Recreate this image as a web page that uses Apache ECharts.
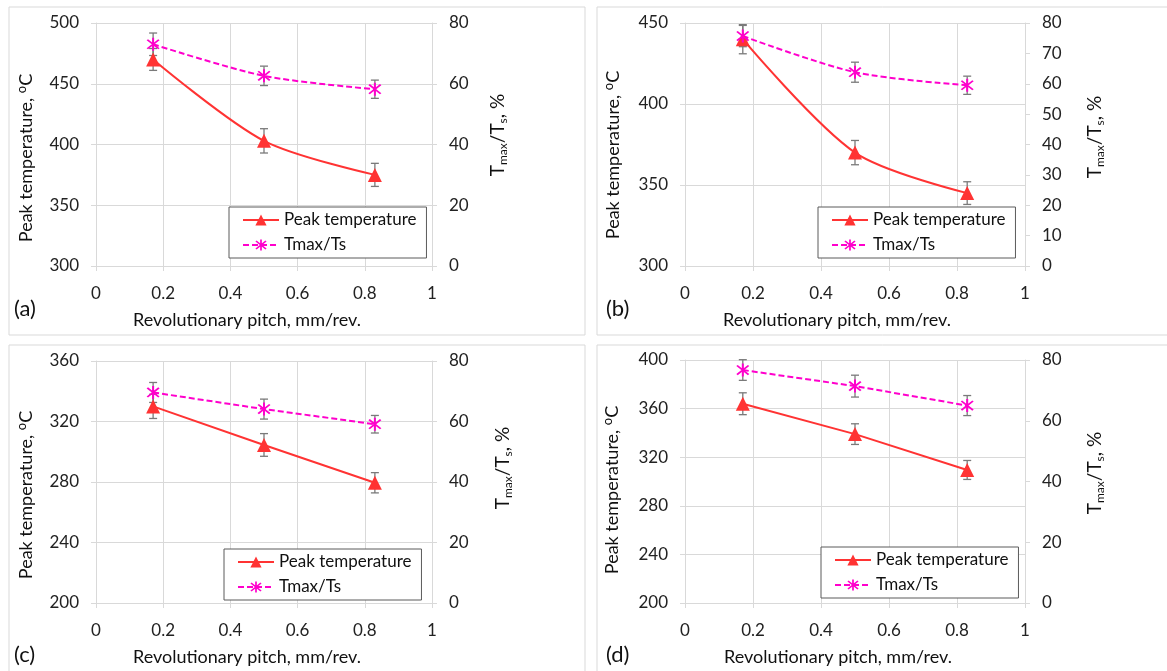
<!DOCTYPE html>
<html>
<head>
<meta charset="utf-8">
<script src="https://cdn.jsdelivr.net/npm/echarts@6/dist/echarts.min.js"></script>
<style>html,body{margin:0;padding:0;background:#fff;}#c{width:1167px;height:671px;}</style>
</head>
<body>
<div id="c"></div>
<script>
// ---- data ----
const pitch = [0.17, 0.5, 0.83];
const xTicks = [0, 0.2, 0.4, 0.6, 0.8, 1];
const panelLabels = ['(a)', '(b)', '(c)', '(d)'];
const seriesNames = ['Peak temperature', 'Tmax/Ts'];

const peakA = [470, 403, 375];
const peakErrA = [9, 10, 9.5];
const ratioA = [73, 62.6, 58.2];
const ratioErrA = [3.7, 3.2, 3.0];

const peakB = [440, 370, 345];
const peakErrB = [9, 7.5, 7];
const ratioB = [75.7, 63.8, 59.5];
const ratioErrB = [3.5, 3.3, 3.0];

const peakC = [330, 304.5, 279.5];
const peakErrC = [8, 7.5, 6.7];
const ratioC = [69.6, 64.1, 59.1];
const ratioErrC = [3.3, 3.3, 2.9];

const peakD = [364, 339, 309.5];
const peakErrD = [9, 8.5, 7.8];
const ratioD = [76.7, 71.4, 65.0];
const ratioErrD = [3.4, 3.6, 3.3];

// left axis ranges [min, max, interval], right axis ranges
const leftAxes = [[300, 500, 50], [300, 450, 50], [200, 360, 40], [200, 400, 40]];
const rightAxes = [[0, 80, 20], [0, 80, 10], [0, 80, 20], [0, 80, 20]];

// ---- layout ----
const FONT = 'Lato';
const GRID = '#d9d9d9';
const RED = '#ff3333';
const MAG = '#ff00cc';
const ERR = '#7a7a7a';
const TXT = '#111';
const panels = [
  {peak: peakA, pe: peakErrA, ratio: ratioA, re: ratioErrA, smooth: true,
   grid: {left: 96, top: 23, width: 336, height: 243},
   legend: {left: 229, top: 207}, box: [9, 7, 576, 328], lab: [14, 309],
   xt: [247, 320], yt: [26, 158], rt: [498, 135]},
  {peak: peakB, pe: peakErrB, ratio: ratioB, re: ratioErrB, smooth: true,
   grid: {left: 685, top: 23, width: 340, height: 243},
   legend: {left: 818, top: 207}, box: [597, 7, 600, 328], lab: [606, 309],
   xt: [837, 320], yt: [613, 155], rt: [1095, 137]},
  {peak: peakC, pe: peakErrC, ratio: ratioC, re: ratioErrC, smooth: false,
   grid: {left: 96, top: 361, width: 336, height: 242},
   legend: {left: 224, top: 549}, box: [9, 345, 576, 340], lab: [14, 655],
   xt: [247, 657], yt: [26, 495], rt: [503, 468]},
  {peak: peakD, pe: peakErrD, ratio: ratioD, re: ratioErrD, smooth: false,
   grid: {left: 685, top: 360, width: 340, height: 243},
   legend: {left: 821, top: 547}, box: [597, 345, 600, 340], lab: [606, 655],
   xt: [838, 657], yt: [612, 490], rt: [1095, 473]}
];

const starPath = 'path://M-1.2,-10 L1.2,-10 L1.2,10 L-1.2,10 Z ' +
  'M-6.15,-7.85 L7.85,6.15 L6.15,7.85 L-7.85,-6.15 Z ' +
  'M6.15,-7.85 L7.85,-6.15 L-6.15,7.85 L-7.85,6.15 Z';

function errRender(params, api) {
  const x = api.value(0), y = api.value(1), e = api.value(2);
  const top = api.coord([x, y + e]);
  const bot = api.coord([x, y - e]);
  const cap = 4;
  const st = {stroke: ERR, lineWidth: 1.3};
  return {type: 'group', children: [
    {type: 'line', shape: {x1: top[0], y1: top[1], x2: bot[0], y2: bot[1]}, style: st},
    {type: 'line', shape: {x1: top[0] - cap, y1: top[1], x2: top[0] + cap, y2: top[1]}, style: st},
    {type: 'line', shape: {x1: bot[0] - cap, y1: bot[1], x2: bot[0] + cap, y2: bot[1]}, style: st}
  ]};
}

const grids = [], xAxes = [], yAxes = [], series = [], legends = [], graphics = [];
const tickLbl = {fontFamily: FONT, fontSize: 17, color: '#222'};

panels.forEach((p, i) => {
  grids.push(Object.assign({containLabel: false}, p.grid));
  xAxes.push({
    type: 'value', gridIndex: i, min: xTicks[0], max: xTicks[xTicks.length - 1], interval: 0.2,
    axisLine: {show: true, lineStyle: {color: GRID}},
    axisTick: {show: true, length: 5, lineStyle: {color: GRID}},
    splitLine: {show: true, lineStyle: {color: GRID}},
    axisLabel: Object.assign({margin: 19}, tickLbl)
  });
  const L = leftAxes[i], R = rightAxes[i];
  yAxes.push({
    type: 'value', gridIndex: i, position: 'left', min: L[0], max: L[1], interval: L[2],
    axisLine: {show: true, lineStyle: {color: GRID}},
    axisTick: {show: true, length: 5, lineStyle: {color: GRID}},
    splitLine: {show: true, lineStyle: {color: GRID}},
    axisLabel: Object.assign({margin: 17}, tickLbl)
  });
  yAxes.push({
    type: 'value', gridIndex: i, position: 'right', min: R[0], max: R[1], interval: R[2],
    axisLine: {show: true, lineStyle: {color: GRID}},
    axisTick: {show: true, length: 5, lineStyle: {color: GRID}},
    splitLine: {show: false},
    axisLabel: Object.assign({margin: 17}, tickLbl)
  });
  const li = 2 * i, ri = 2 * i + 1;
  series.push({
    type: 'custom', xAxisIndex: i, yAxisIndex: li, renderItem: errRender, z: 1, silent: true,
    encode: {x: 0, y: 1},
    data: pitch.map((x, k) => [x, p.peak[k], p.pe[k]])
  });
  series.push({
    type: 'custom', xAxisIndex: i, yAxisIndex: ri, renderItem: errRender, z: 1, silent: true,
    encode: {x: 0, y: 1},
    data: pitch.map((x, k) => [x, p.ratio[k], p.re[k]])
  });
  series.push({
    name: seriesNames[0], type: 'line', xAxisIndex: i, yAxisIndex: li, smooth: p.smooth ? 0.3 : false,
    symbol: 'triangle', symbolSize: 14, z: 3,
    lineStyle: {color: RED, width: 2}, itemStyle: {color: RED},
    data: pitch.map((x, k) => [x, p.peak[k]])
  });
  series.push({
    name: seriesNames[1], type: 'line', xAxisIndex: i, yAxisIndex: ri, smooth: p.smooth ? 0.3 : false,
    symbol: starPath, symbolSize: 13, z: 3,
    lineStyle: {color: MAG, width: 2, type: [6, 3]}, itemStyle: {color: MAG},
    data: pitch.map((x, k) => [x, p.ratio[k]])
  });
  legends.push({
    orient: 'vertical', left: p.legend.left, top: p.legend.top, data: seriesNames,
    backgroundColor: '#fff', borderColor: '#5a5a5a', borderWidth: 1,
    padding: [3, 10, 3, 13], itemGap: 5, itemWidth: 36, itemHeight: 14, selectedMode: false,
    textStyle: {fontFamily: FONT, fontSize: 17, color: TXT, lineHeight: 20}
  });
  // panel border
  graphics.push({type: 'rect', shape: {x: p.box[0], y: p.box[1], width: p.box[2], height: p.box[3]},
    style: {fill: null, stroke: GRID, lineWidth: 1}, z: -1, silent: true});
  // panel label
  graphics.push({type: 'text', x: p.lab[0], y: p.lab[1],
    style: {text: panelLabels[i], font: '22px ' + FONT, fill: TXT, align: 'left', verticalAlign: 'middle'}});
  // x title
  graphics.push({type: 'text', x: p.xt[0], y: p.xt[1],
    style: {text: 'Revolutionary pitch, mm/rev.', font: '18px ' + FONT, fill: TXT, align: 'center', verticalAlign: 'middle'}});
  // left y title
  graphics.push({type: 'text', x: p.yt[0], y: p.yt[1], rotation: Math.PI / 2,
    style: {text: '{m|Peak temperature, }{sup|o}{m|C}', align: 'center', verticalAlign: 'middle',
      rich: {m: {fontFamily: FONT, fontSize: 18, fill: TXT, color: TXT, lineHeight: 22},
             sup: {fontFamily: FONT, fontSize: 13, fill: TXT, color: TXT, lineHeight: 10, verticalAlign: 'top'}}}});
  // right y title
  graphics.push({type: 'text', x: p.rt[0], y: p.rt[1], rotation: Math.PI / 2,
    style: {text: '{m|T}{sub|max}{m|/T}{sub|s}{m|, %}', align: 'center', verticalAlign: 'middle',
      rich: {m: {fontFamily: FONT, fontSize: 19, fill: TXT, color: TXT, lineHeight: 22},
             sub: {fontFamily: FONT, fontSize: 12, fill: TXT, color: TXT, lineHeight: 8, verticalAlign: 'bottom'}}}});
});

const chart = echarts.init(document.getElementById('c'), null, {renderer: 'canvas'});
chart.setOption({
  backgroundColor: '#fff',
  animation: false,
  textStyle: {fontFamily: FONT},
  grid: grids, xAxis: xAxes, yAxis: yAxes, series: series, legend: legends,
  graphic: graphics
});
</script>
</body>
</html>
